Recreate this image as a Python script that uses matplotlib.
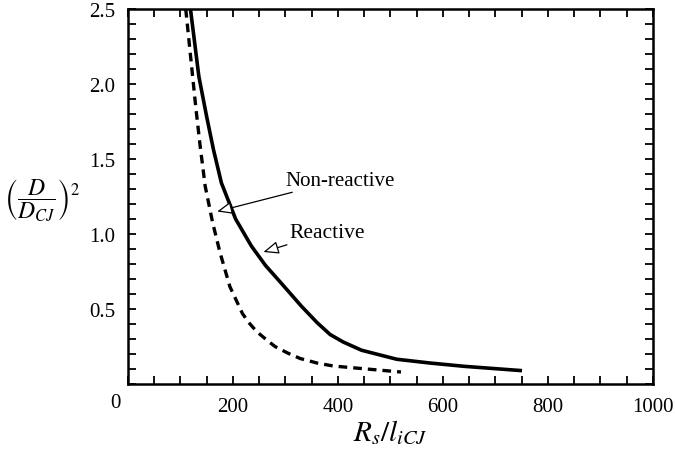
#!/usr/bin/env python3
# -*- coding: utf-8 -*-

import matplotlib
matplotlib.use("Agg")
import matplotlib.pyplot as plt
from matplotlib.ticker import MultipleLocator, FixedLocator

plt.rcParams["font.family"] = "Liberation Serif"
plt.rcParams["mathtext.fontset"] = "stix"

# reactive (solid) curve
reactive_x = [119, 135, 150, 163, 178, 205, 235, 262, 290, 330, 360, 385,
              410, 445, 512, 575, 640, 747]
reactive_y = [2.50, 2.05, 1.78, 1.56, 1.34, 1.10, 0.92, 0.79, 0.68, 0.52,
              0.41, 0.33, 0.28, 0.225, 0.165, 0.14, 0.118, 0.09]

# non-reactive (dashed) curve
nonreactive_x = [110, 129, 137, 147, 161, 175, 194, 218, 230, 245, 262, 280,
                 305, 328, 360, 391, 455, 520]
nonreactive_y = [2.50, 1.85, 1.60, 1.32, 1.08, 0.88, 0.65, 0.47, 0.41, 0.35,
                 0.30, 0.25, 0.205, 0.17, 0.14, 0.12, 0.10, 0.08]

x_ticks = [200, 400, 600, 800, 1000]
y_ticks = [0.5, 1.0, 1.5, 2.0, 2.5]

fig = plt.figure(figsize=(6.75, 4.52), dpi=100)
ax = fig.add_axes([0.1896, 0.1482, 0.7778, 0.8297])

ax.plot(reactive_x, reactive_y, color="black", lw=2.6,
        solid_joinstyle="round")
ax.plot(nonreactive_x, nonreactive_y, color="black", lw=2.4,
        linestyle=(0, (2.6, 1.8)))

ax.set_xlim(0, 1000)
ax.set_ylim(0, 2.5)
ax.xaxis.set_major_locator(FixedLocator(x_ticks))
ax.yaxis.set_major_locator(FixedLocator(y_ticks))
ax.xaxis.set_minor_locator(MultipleLocator(50))
ax.yaxis.set_minor_locator(MultipleLocator(0.1))
ax.set_xticklabels([str(v) for v in x_ticks])
ax.set_yticklabels([f"{v:.1f}" for v in y_ticks])

ax.tick_params(which="both", direction="in", top=True, right=True,
               length=6, width=1.3, labelsize=15)
ax.tick_params(axis="x", which="major", pad=9)
ax.tick_params(axis="y", which="major", pad=9)
for s in ax.spines.values():
    s.set_linewidth(1.8)

# shared origin label
ax.annotate("0", xy=(0, 0), xycoords="data", xytext=(-13, -18),
            textcoords="offset pixels", ha="center", va="center", fontsize=15)

ax.set_xlabel(r"$R_s/l_{iCJ}$", fontsize=21, labelpad=2)
fig.text(0.062, 0.557, r"$\left(\dfrac{D}{D_{CJ}}\right)^2$", fontsize=17,
         ha="center", va="center")

arrow = dict(arrowstyle="-|>,head_length=0.6,head_width=0.25", color="black",
             lw=0.9, fc="white", shrinkA=0, shrinkB=0)
ax.annotate("Non-reactive", xy=(170, 1.15), xytext=(300, 1.36),
            fontsize=15, va="center", ha="left", arrowprops=arrow)
ax.annotate("Reactive", xy=(258, 0.88), xytext=(307, 1.01),
            fontsize=15.5, va="center", ha="left", arrowprops=arrow)

fig.savefig("out.png", dpi=100)
